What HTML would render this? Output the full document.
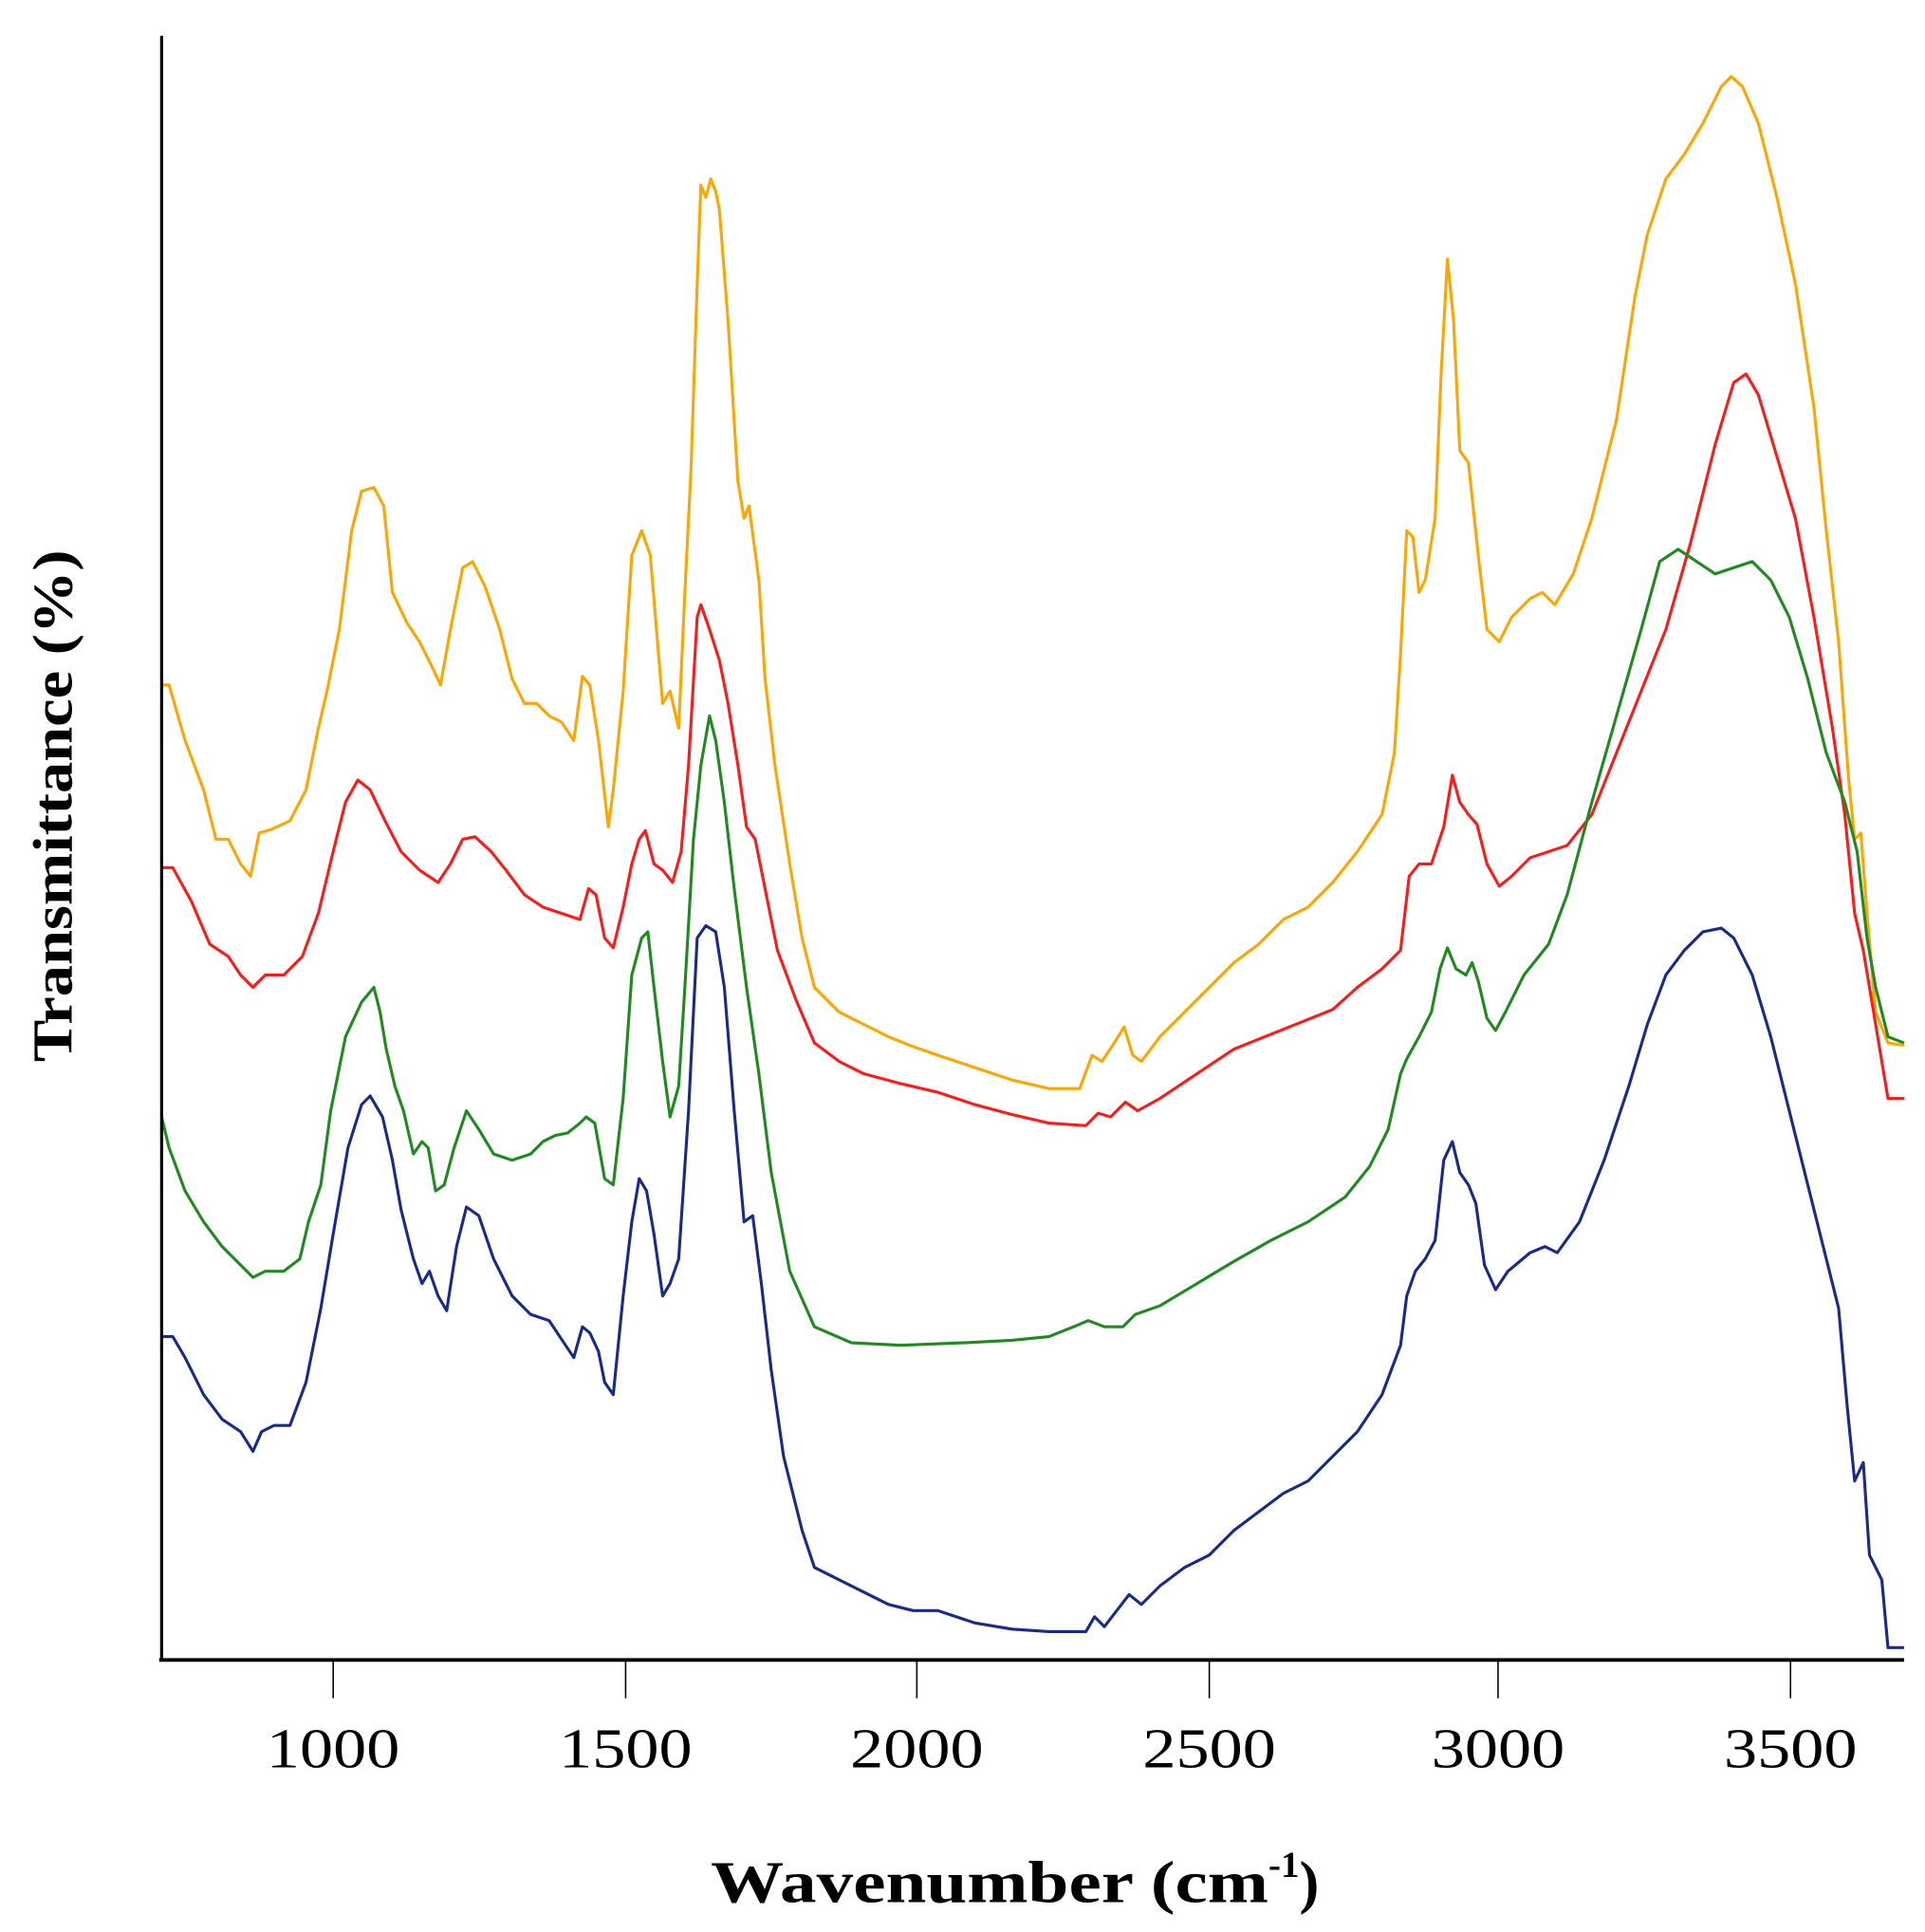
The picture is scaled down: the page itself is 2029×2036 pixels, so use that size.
<!DOCTYPE html>
<html><head><meta charset="utf-8"><style>
html,body{margin:0;padding:0;background:#fff;}
svg{display:block;}
</style></head><body>
<svg width="2029" height="2036" viewBox="0 0 1560 1565.4" preserveAspectRatio="none" xmlns="http://www.w3.org/2000/svg">
<rect width="1560" height="1566" fill="#fff"/>
<g fill="none" stroke-linejoin="round" stroke-width="2.4">
<polyline stroke="#ffa500" points="131,555 137,555 150,600 165,640 175,680 185,680 195,700 203,710 210,675 220,672 235,665 248,640 258,590 265,560 275,510 285,430 293,398 303,395 311,410 318,480 330,505 340,520 350,540 357,555 365,510 375,460 383,455 393,475 405,510 415,550 425,570 435,570 445,580 455,585 465,600 472,548 478,555 485,600 493,670 497,640 505,560 512,450 520,430 527,450 532,510 537,570 543,560 550,590 555,480 560,380 565,230 568,150 572,160 576,145 580,155 583,170 590,260 598,390 603,420 607,410 615,470 620,550 628,620 640,700 650,760 660,800 670,810 680,820 700,830 720,840 740,848 760,855 790,865 820,875 850,882 875,882 885,855 893,860 903,845 911,832 918,855 925,860 940,840 960,820 980,800 1000,780 1020,765 1040,745 1060,735 1080,715 1100,690 1120,660 1130,610 1135,530 1140,430 1145,435 1150,480 1155,470 1163,420 1168,300 1173,210 1178,260 1183,365 1190,375 1198,450 1205,510 1215,520 1225,500 1240,485 1250,480 1260,490 1275,465 1290,420 1310,340 1325,240 1335,190 1350,145 1365,125 1380,100 1395,70 1403,62 1412,70 1425,100 1440,160 1455,230 1470,330 1480,430 1490,520 1498,630 1503,680 1508,675 1513,740 1520,820 1530,845 1543,847"/>
<polyline stroke="#ff1a1a" points="131,703 140,703 155,730 170,765 185,775 195,790 205,800 215,790 230,790 245,775 258,740 270,690 280,650 290,632 300,640 312,665 325,690 340,705 355,715 365,700 375,680 385,678 398,690 410,705 425,725 440,735 455,740 470,745 477,720 483,725 490,760 497,768 505,735 512,700 518,680 523,673 530,700 537,705 545,715 552,690 558,620 565,500 568,490 575,510 583,535 590,570 598,620 605,670 612,680 620,720 630,770 645,810 660,845 680,860 700,870 730,878 760,885 790,895 820,903 850,910 880,912 890,902 900,905 912,893 922,900 940,890 970,870 1000,850 1030,838 1060,826 1080,818 1100,800 1120,785 1135,770 1142,710 1150,700 1160,700 1170,670 1177,628 1183,650 1190,660 1197,668 1205,700 1215,718 1225,710 1240,695 1255,690 1270,685 1290,660 1310,610 1330,560 1350,510 1370,440 1390,360 1405,310 1415,303 1425,320 1440,370 1455,420 1470,500 1485,590 1495,660 1503,740 1510,770 1520,830 1530,890 1543,890"/>
<polyline stroke="#1f8a1f" points="131,905 137,930 150,965 165,990 180,1010 195,1025 205,1035 215,1030 230,1030 243,1020 250,990 260,960 268,900 280,840 293,812 303,800 308,820 313,850 320,880 327,900 335,935 342,925 347,930 353,965 360,960 368,930 378,900 388,915 400,935 415,940 430,935 440,925 450,920 460,918 470,910 475,905 482,910 490,955 497,960 505,890 512,790 520,760 525,755 530,800 537,860 543,905 550,880 555,800 562,680 568,620 575,580 580,600 587,650 595,720 605,800 615,870 625,950 640,1030 660,1075 690,1088 730,1090 780,1088 820,1086 850,1083 870,1075 882,1070 895,1075 910,1075 920,1065 940,1058 970,1040 1000,1022 1030,1005 1060,990 1090,970 1110,945 1125,915 1135,870 1140,858 1150,840 1160,820 1167,785 1173,768 1180,785 1188,790 1193,780 1198,795 1205,825 1212,835 1220,820 1235,790 1255,765 1270,725 1290,650 1310,580 1330,510 1345,455 1360,445 1375,455 1390,465 1405,460 1420,455 1435,470 1450,500 1465,550 1480,610 1495,650 1505,690 1513,760 1520,800 1530,840 1543,845"/>
<polyline stroke="#1a2a8c" points="131,1083 140,1083 150,1100 165,1130 180,1150 195,1160 205,1176 212,1160 222,1155 235,1155 248,1120 260,1060 270,1000 282,930 293,895 300,888 310,905 318,940 325,980 335,1020 342,1040 348,1030 355,1050 362,1062 370,1010 378,978 388,985 400,1020 415,1050 430,1065 445,1070 455,1085 465,1100 472,1075 478,1080 485,1095 490,1120 497,1130 505,1050 512,990 518,955 524,965 530,1000 537,1050 543,1040 550,1020 558,900 565,760 572,750 580,755 587,800 595,900 603,990 610,985 617,1040 625,1110 635,1180 650,1240 660,1270 680,1280 700,1290 720,1300 740,1305 760,1305 790,1315 820,1320 850,1322 880,1322 887,1310 895,1318 905,1305 915,1292 925,1300 940,1285 960,1270 980,1260 1000,1240 1020,1225 1040,1210 1060,1200 1080,1180 1100,1160 1120,1130 1135,1090 1140,1050 1147,1030 1155,1020 1163,1005 1170,940 1177,925 1183,950 1190,960 1196,975 1203,1025 1212,1045 1222,1030 1240,1015 1252,1010 1262,1015 1280,990 1300,940 1320,880 1335,830 1350,790 1365,770 1380,755 1395,752 1405,760 1420,790 1435,840 1455,920 1475,1000 1490,1060 1497,1140 1503,1200 1510,1185 1515,1260 1525,1280 1530,1335 1543,1335"/>
</g>
<g stroke="#000" fill="none">
<line x1="131" y1="29" x2="131" y2="1346" stroke-width="2.5"/>
<line x1="129" y1="1345" x2="1543" y2="1345" stroke-width="3"/>
<line x1="270" y1="1345" x2="270" y2="1376" stroke-width="1.2"/>
<line x1="507" y1="1345" x2="507" y2="1376" stroke-width="1.2"/>
<line x1="743" y1="1345" x2="743" y2="1376" stroke-width="1.2"/>
<line x1="980" y1="1345" x2="980" y2="1376" stroke-width="1.2"/>
<line x1="1214" y1="1345" x2="1214" y2="1376" stroke-width="1.2"/>
<line x1="1451" y1="1345" x2="1451" y2="1376" stroke-width="1.2"/>
</g>
<g font-family="Liberation Serif, serif" font-size="46" text-anchor="middle" fill="#000">
<text x="270" y="1432" textLength="108" lengthAdjust="spacingAndGlyphs">1000</text>
<text x="507" y="1432" textLength="108" lengthAdjust="spacingAndGlyphs">1500</text>
<text x="743" y="1432" textLength="108" lengthAdjust="spacingAndGlyphs">2000</text>
<text x="980" y="1432" textLength="108" lengthAdjust="spacingAndGlyphs">2500</text>
<text x="1214" y="1432" textLength="108" lengthAdjust="spacingAndGlyphs">3000</text>
<text x="1451" y="1432" textLength="108" lengthAdjust="spacingAndGlyphs">3500</text>
</g>
<text x="576" y="1541" font-family="Liberation Serif, serif" font-size="48" font-weight="bold"><tspan textLength="452" lengthAdjust="spacingAndGlyphs">Wavenumber (cm</tspan><tspan font-size="30" dy="-20">-1</tspan><tspan dy="20">)</tspan></text>
<text transform="translate(58,653) rotate(-90)" font-family="Liberation Serif, serif" font-size="46" font-weight="bold" text-anchor="middle" textLength="415" lengthAdjust="spacingAndGlyphs">Transmittance (%)</text>
</svg>
</body></html>
